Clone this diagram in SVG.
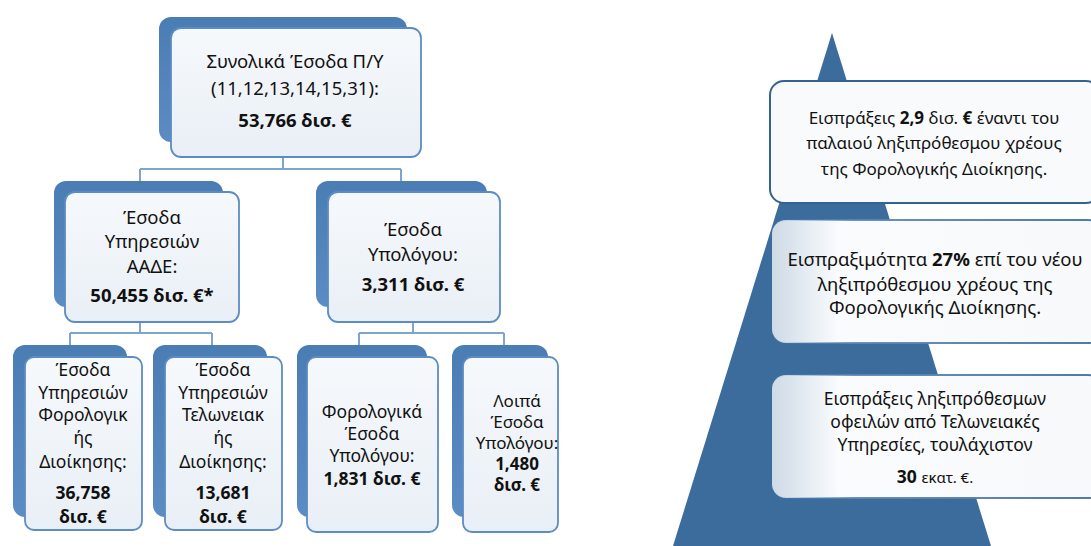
<svg xmlns="http://www.w3.org/2000/svg" width="1091" height="546" viewBox="0 0 1091 546">
<defs>
<linearGradient id="back" x1="0" y1="0" x2="0" y2="1">
<stop offset="0" stop-color="#4a7db4"/>
<stop offset="1" stop-color="#5b8cc3"/>
</linearGradient>
<linearGradient id="front" x1="0" y1="0" x2="0" y2="1">
<stop offset="0" stop-color="#f6f9fc"/>
<stop offset="1" stop-color="#e9eff6"/>
</linearGradient>
<linearGradient id="fade" x1="0" y1="0" x2="1" y2="0">
<stop offset="0" stop-color="#5b87b5" stop-opacity="0"/>
<stop offset="0.25" stop-color="#5b87b5" stop-opacity="0.9"/>
<stop offset="1" stop-color="#4d7aa8"/>
</linearGradient>
<linearGradient id="fadefill" x1="0" y1="0" x2="1" y2="0">
<stop offset="0" stop-color="#ffffff" stop-opacity="0.75"/>
<stop offset="0.2" stop-color="#f9fbfd"/>
<stop offset="1" stop-color="#f7f9fb"/>
</linearGradient>
<style>
.bk{fill:url(#back);}
.fr{fill:url(#front);stroke:#5d8cc2;stroke-width:1.8;}
.cn{fill:none;stroke:#7fa4cf;stroke-width:2;}
text{font-family:"Noto Sans","Open Sans","DejaVu Sans",sans-serif;fill:#111;text-anchor:middle;}
.t{font-size:18.5px;}
.tb{font-size:18.5px;font-weight:bold;}
.s{font-size:17.5px;}
.sb{font-size:17.5px;font-weight:bold;}
.m{font-size:17px;}
.mb{font-size:17px;font-weight:bold;}
.ra{font-size:17px;}
.rc{font-size:18.5px;}
.rd{font-size:17.5px;}
.rb{font-weight:bold;}
</style>
</defs>
<rect width="1091" height="546" fill="#ffffff"/>

<g id="connectors">
<path class="cn" d="M283 157 V169 M140 169 H401 M140 169 V181 M401 169 V181"/>
<path class="cn" d="M140 322 V333 M70 333 H212 M70 333 V345 M212 333 V345"/>
<path class="cn" d="M413 322 V333 M359 333 H504 M359 333 V345 M504 333 V345"/>
</g>

<g id="node-total">
<rect class="bk" x="159" y="17" width="248" height="125" rx="12"/>
<rect class="fr" x="171" y="28" width="250" height="129" rx="10"/>
<text class="t" x="295" y="68">Συνολικά Έσοδα Π/Υ</text>
<text class="t" x="295" y="95">(11,12,13,14,15,31):</text>
<text class="tb" x="295" y="127">53,766 δισ. €</text>
</g>

<g id="node-aade">
<rect class="bk" x="54" y="181" width="169" height="126" rx="12"/>
<rect class="fr" x="65" y="192" width="174" height="130" rx="10"/>
<text class="t" x="152" y="224">Έσοδα</text>
<text class="t" x="152" y="248">Υπηρεσιών</text>
<text class="t" x="152" y="273">ΑΑΔΕ:</text>
<text class="tb" x="152" y="302">50,455 δισ. €*</text>
</g>

<g id="node-ypologou">
<rect class="bk" x="316" y="181" width="171" height="126" rx="12"/>
<rect class="fr" x="328" y="192" width="172" height="130" rx="10"/>
<text class="t" x="413" y="236">Έσοδα</text>
<text class="t" x="413" y="261">Υπολόγου:</text>
<text class="tb" x="413" y="291">3,311 δισ. €</text>
</g>

<g id="node-forologikis">
<rect class="bk" x="13" y="345" width="114" height="172" rx="12"/>
<rect class="fr" x="25" y="357" width="117" height="173" rx="9"/>
<text class="s" x="83" y="376">Έσοδα</text>
<text class="s" x="83" y="399">Υπηρεσιών</text>
<text class="s" x="83" y="421">Φορολογικ</text>
<text class="s" x="83" y="444">ής</text>
<text class="s" x="83" y="468">Διοίκησης:</text>
<text class="sb" x="83" y="499">36,758</text>
<text class="sb" x="83" y="523">δισ. €</text>
</g>

<g id="node-telonειακης">
<rect class="bk" x="153" y="345" width="114" height="172" rx="12"/>
<rect class="fr" x="165" y="357" width="117" height="173" rx="9"/>
<text class="s" x="223" y="376">Έσοδα</text>
<text class="s" x="223" y="399">Υπηρεσιών</text>
<text class="s" x="223" y="421">Τελωνειακ</text>
<text class="s" x="223" y="444">ής</text>
<text class="s" x="223" y="468">Διοίκησης:</text>
<text class="sb" x="223" y="499">13,681</text>
<text class="sb" x="223" y="523">δισ. €</text>
</g>

<g id="node-forologika-ypologou">
<rect class="bk" x="297" y="345" width="130" height="172" rx="12"/>
<rect class="fr" x="307" y="357" width="131" height="175" rx="9"/>
<text class="s" x="372" y="418">Φορολογικά</text>
<text class="s" x="372" y="440">Έσοδα</text>
<text class="s" x="372" y="462">Υπολόγου:</text>
<text class="sb" x="372" y="485">1,831 δισ. €</text>
</g>

<g id="node-loipa">
<rect class="bk" x="452" y="345" width="96" height="172" rx="12"/>
<rect class="fr" x="463" y="357" width="95" height="175" rx="9"/>
<text class="m" x="517" y="407">Λοιπά</text>
<text class="m" x="517" y="428">Έσοδα</text>
<text class="m" x="517" y="449">Υπολόγου:</text>
<text class="mb" x="517" y="470">1,480</text>
<text class="mb" x="517" y="491">δισ. €</text>
</g>

<g id="pyramid">
<polygon points="832,33 673,546 991,546" fill="#3b6c9c"/>
</g>

<g id="box-palaio">
<rect x="770" y="81" width="330" height="122" rx="14" fill="#f8fafc" stroke="#33638f" stroke-width="2"/>
<text class="ra" x="934" y="124">Εισπράξεις <tspan class="rb">2,9</tspan> δισ. <tspan class="rb">€</tspan> έναντι του</text>
<text class="ra" x="934" y="149">παλαιού ληξιπρόθεσμου χρέους</text>
<text class="ra" x="934" y="175">της Φορολογικής Διοίκησης.</text>
</g>

<g id="box-neo">
<rect x="772" y="220" width="330" height="123" rx="14" fill="url(#fadefill)" stroke="url(#fade)" stroke-width="2"/>
<text class="rc" x="935" y="266">Εισπραξιμότητα <tspan class="rb">27%</tspan> επί του νέου</text>
<text class="rc" x="935" y="291">ληξιπρόθεσμου χρέους της</text>
<text class="rc" x="935" y="314">Φορολογικής Διοίκησης.</text>
</g>

<g id="box-telonia">
<rect x="772" y="375" width="330" height="123" rx="14" fill="url(#fadefill)" stroke="url(#fade)" stroke-width="2"/>
<text class="rd" x="935" y="405">Εισπράξεις ληξιπρόθεσμων</text>
<text class="rd" x="935" y="428">οφειλών από Τελωνειακές</text>
<text class="rd" x="935" y="451">Υπηρεσίες, τουλάχιστον</text>
<text class="rd" x="935" y="483"><tspan class="rb">30</tspan> <tspan font-size="15px">εκατ. €.</tspan></text>
</g>
</svg>
